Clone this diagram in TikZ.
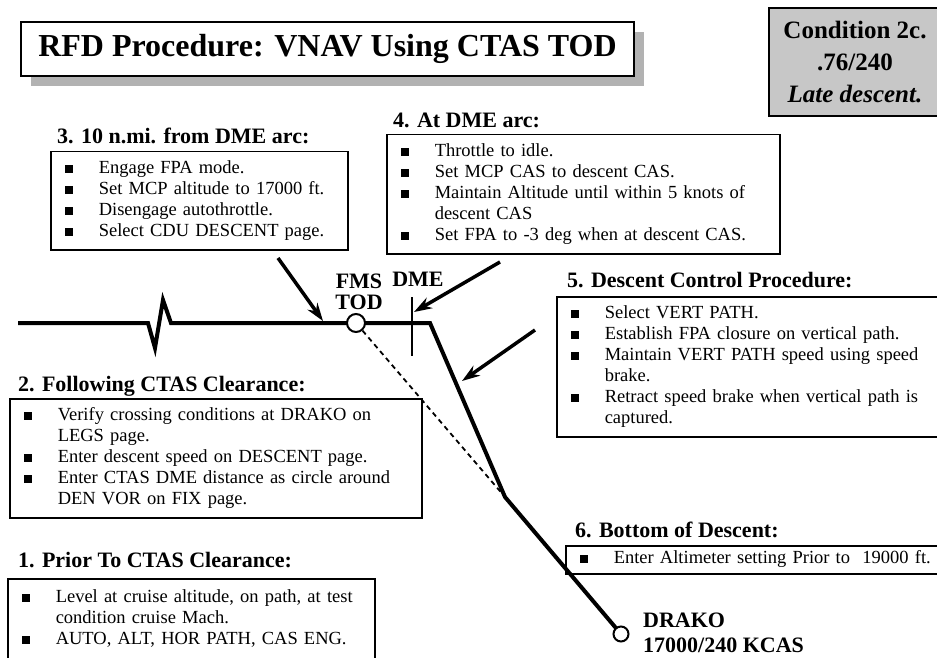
\documentclass[tikz,border=0pt]{standalone}
\usepackage{fontspec}
\setmainfont{Liberation Serif}
\usepackage{tikz}
\usetikzlibrary{arrows.meta,shadows}

\newcommand{\sq}{\makebox[34pt][l]{\rule[0.5pt]{8pt}{8pt}}}
\newcommand{\gap}{\hspace*{34pt}}

\begin{document}
\begin{tikzpicture}[x=1pt, y=-1pt, >={Stealth[length=18pt,width=12pt]},
    box/.style={draw, line width=1.5pt, fill=white, anchor=north west, align=left,
        inner xsep=14pt, inner ysep=7pt, font=\fontsize{18.5}{21}\selectfont,
        execute at begin node=\strut, execute at end node=\strut},
    head/.style={anchor=base west, inner sep=0pt, font=\fontsize{22}{22}\selectfont\bfseries},
    tag/.style={inner sep=0pt, align=center, font=\fontsize{22}{21}\selectfont\bfseries},
    route/.style={line width=4pt, line join=miter},
    pointer/.style={->, line width=3.5pt},
    fix/.style={circle, draw, line width=2pt, fill=white, inner sep=0pt}]
    \useasboundingbox (0,0) rectangle (937,658);
    \clip (0,0) rectangle (937,658);
    % 标题
    \node [draw, line width=1.6pt, fill=white, minimum width=613pt, minimum height=54pt,
        inner sep=0pt, font=\fontsize{32}{32}\selectfont\bfseries,
        drop shadow={shadow xshift=10pt, shadow yshift=-10pt, fill=black!30, opacity=1}]
        (title) at (327.5,49) {RFD Procedure: VNAV Using CTAS TOD};
    \node [draw, line width=1.6pt, fill=black!22, minimum width=172pt, minimum height=108pt,
        align=center, font=\fontsize{25}{32}\selectfont\bfseries]
        (cond) at (855,62) {Condition 2c.\\.76/240\\\textit{Late descent.}};
    % 步骤
    \node [head] (h3) at (57,143.5) {3. 10 n.mi. from DME arc:};
    \node [box, text width=269pt] (s3) at (50,151) {\sq Engage FPA mode.\\
        \sq Set MCP altitude to 17000 ft.\\ \sq Disengage autothrottle.\\
        \sq Select CDU DESCENT page.};
    \node [head] (h4) at (393,127.5) {4. At DME arc:};
    \node [box, text width=365pt] (s4) at (386,134) {\sq Throttle to idle.\\
        \sq Set MCP CAS to descent CAS.\\ \sq Maintain Altitude until within 5 knots of\\
        \gap descent CAS\\ \sq Set FPA to -3 deg when at descent CAS.};
    \node [head] (h5) at (567,287.5) {5. Descent Control Procedure:};
    \node [box, text width=370pt] (s5) at (556,296) {\sq Select VERT PATH.\\
        \sq Establish FPA closure on vertical path.\\
        \sq Maintain VERT PATH speed using speed\\ \gap brake.\\
        \sq Retract speed brake when vertical path is\\ \gap captured.};
    \node [head] (h2) at (18,391.5) {2. Following CTAS Clearance:};
    \node [box, text width=384pt] (s2) at (9,398) {\sq Verify crossing conditions at DRAKO on\\
        \gap LEGS page.\\ \sq Enter descent speed on DESCENT page.\\
        \sq Enter CTAS DME distance as circle around\\ \gap DEN VOR on FIX page.};
    \node [head] (h1) at (18,567.5) {1. Prior To CTAS Clearance:};
    \node [box, text width=339pt, inner ysep=9pt] (s1) at (7,578) {\sq Level at cruise altitude, on path, at test\\
        \gap condition cruise Mach.\\ \sq AUTO, ALT, HOR PATH, CAS ENG.};
    \node [head] (h6) at (575,537.5) {6. Bottom of Descent:};
    \node [box, text width=360pt, inner ysep=3.5pt] (s6) at (565,545)
        {\sq Enter Altimeter setting Prior to\ \ 19000 ft.};
    % 航迹
    \coordinate (w) at (18,323);
    \coordinate (z1) at (148,323);
    \coordinate (z2) at (155,348);
    \coordinate (z3) at (163,300);
    \coordinate (z4) at (171,323);
    \coordinate (crest) at (430,323);
    \coordinate (bend) at (505,497);
    \coordinate (end) at (621,634);
    \draw [route] (w) -- (z1) -- (z2) -- (z3) -- (z4) -- (crest) -- (bend) -- (end);
    \node [fix, minimum size=18pt] (tod) at (356,323) {};
    \node [fix, minimum size=15pt] (drako) at (end) {};
    \draw [line width=1.8pt, dash pattern=on 5pt off 4pt] (tod) -- (bend);
    % DME 刻线
    \coordinate (dmetop) at (412,297);
    \coordinate (dmebot) at (412,356);
    \draw [line width=1.5pt] (dmetop) -- (dmebot);
    % 标注
    \node [tag] (fms) at (359,291.5) {FMS\\TOD};
    \node [tag] (dme) at (418,279) {DME};
    \node [tag, align=left, anchor=north west, font=\fontsize{22}{25}\selectfont\bfseries]
        (drakolab) at (643,613) {DRAKO\\17000/240 KCAS};
    % 箭头
    \coordinate (a3) at (278,258);
    \coordinate (p3) at (323,321);
    \coordinate (a4) at (500,262);
    \coordinate (p4) at (414,312);
    \coordinate (a5) at (535,330);
    \coordinate (p5) at (462,381);
    \draw [pointer] (a3) -- (p3);
    \draw [pointer] (a4) -- (p4);
    \draw [pointer] (a5) -- (p5);
\end{tikzpicture}
\end{document}
